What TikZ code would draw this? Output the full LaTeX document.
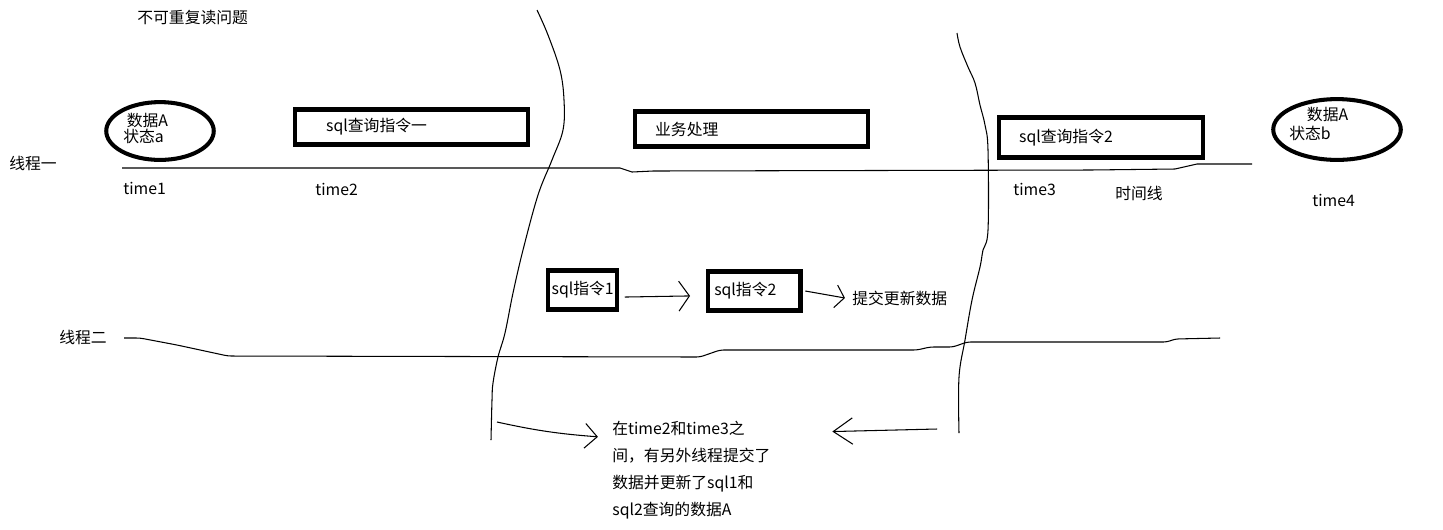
\documentclass[tikz,border=0pt]{standalone}
\usepackage{fontspec}
\setmainfont{Noto Sans CJK SC}
\usetikzlibrary{shapes.geometric,arrows.meta}

\begin{document}
\begin{tikzpicture}[x=0.02cm, y=-0.02cm,
    font=\fontsize{9}{10}\selectfont,
    lbl/.style={anchor=west, inner sep=0pt, align=left},
    cmdbox/.style={draw, line width=2.6pt, anchor=west, align=left, inner ysep=0pt},
    state/.style={draw, ellipse, line width=2.3pt, inner sep=0pt},
    hand/.style={line width=0.6pt}]
  \useasboundingbox (0,0) rectangle (1443,529);

  % Title and thread names
  \node [lbl] (title) at (137,18) {不可重复读问题};
  \node [lbl] (thread1) at (9,163) {线程一};
  \node [lbl] (thread2) at (59,337) {线程二};

  % Thread one: data at time1 and time4
  \node [state, minimum width=61.2pt, minimum height=32.9pt] (stateA) at (160,131) {};
  \node [lbl, font=\fontsize{9}{9.6}\selectfont] (stateAtext) at (123,128.5)
    {\hspace*{2pt}数据A\\状态a};
  \node [state, minimum width=72.6pt, minimum height=34.6pt] (stateB) at (1337,129.5) {};
  \node [lbl, font=\fontsize{9}{10.8}\selectfont] (stateBtext) at (1289,123.5)
    {\hspace*{10pt}数据A\\状态b};

  % Thread one: steps
  \node [cmdbox, minimum height=19.8pt, inner xsep=17.9pt, text width=96.9pt]
    (query1) at (292.5,127) {sql查询指令一};
  \node [cmdbox, minimum height=19.8pt, inner xsep=11.6pt, text width=109.5pt]
    (work) at (632.5,129) {业务处理};
  \node [cmdbox, minimum height=22.7pt, inner xsep=11.6pt, text width=93pt]
    (query2) at (996.5,137.5) {sql查询指令2};

  % Time line of thread one
  \draw [hand] (122,168) -- (620,168) -- (632,172) -- (653,171) -- (1090,170)
    -- (1175,169) -- (1197,164) -- (1252,164);
  \node [lbl] (time1) at (123,188) {time1};
  \node [lbl] (time2) at (315,189) {time2};
  \node [lbl] (time3) at (1013,189) {time3};
  \node [lbl] (timeline) at (1115,193) {时间线};
  \node [lbl] (time4) at (1312,200) {time4};

  % Thread two: steps
  \node [cmdbox, minimum height=22.1pt, inner xsep=2.2pt, text width=35.1pt]
    (cmd1) at (545.5,290) {sql指令1};
  \node [cmdbox, minimum height=22.1pt, inner xsep=3.7pt, text width=45.3pt]
    (cmd2) at (705.5,291) {sql指令2};
  \node [lbl] (commit) at (852,298) {提交更新数据};
  \draw [hand, -{Straight Barb[length=6pt,width=17pt]}]
    ([xshift=3pt, yshift=-4pt]cmd1.east) -- ([xshift=-8.8pt, yshift=-2.8pt]cmd2.west);
  \draw [hand, -{Straight Barb[length=5pt,width=13pt]}]
    ([xshift=1.5pt]cmd2.east) -- ([xshift=-4pt]commit.west);

  % Time line of thread two
  \draw [hand, rounded corners=2pt] (124,338) -- (140,338) -- (177,345) -- (228,356)
    -- (700,357) -- (720,350) -- (917,350) -- (930,347) -- (953,347) -- (967,342)
    -- (1167,342) -- (1175,339) -- (1220,338);

  % Borders of the span between time2 and time3
  \draw [hand] plot [smooth, tension=0.6] coordinates {
    (537,10) (548,35) (560,70) (564,100) (563,130) (552,160) (538,195)
    (523,250) (513,293) (505,333) (498,357) (493,383) (492,400) (491,440)};
  \draw [hand] plot [smooth, tension=0.6] coordinates {
    (957,33) (960,47) (968,67) (975,83) (980,105) (985,125) (988,150)
    (988,230) (983,250) (980,267) (972,300) (965,340) (959,377) (959,433)};

  % Note
  \node [anchor=north west, inner sep=0pt, align=left, font=\fontsize{9}{15.3}\selectfont]
    (note) at (612,421)
    {在time2和time3之\\间，有另外线程提交了\\数据并更新了sql1和\\sql2查询的数据A};
  \coordinate (lfrom) at (497,422);
  \coordinate (rfrom) at (937,429);
  \draw [hand, -{Straight Barb[length=7pt,width=14pt]}]
    (lfrom) to [bend right=4] ([xshift=-8pt, yshift=-9pt]note.north west);
  \draw [hand, -{Straight Barb[length=11pt,width=15pt]}]
    (rfrom) -- ([xshift=35pt, yshift=-6pt]note.north east);
\end{tikzpicture}
\end{document}
